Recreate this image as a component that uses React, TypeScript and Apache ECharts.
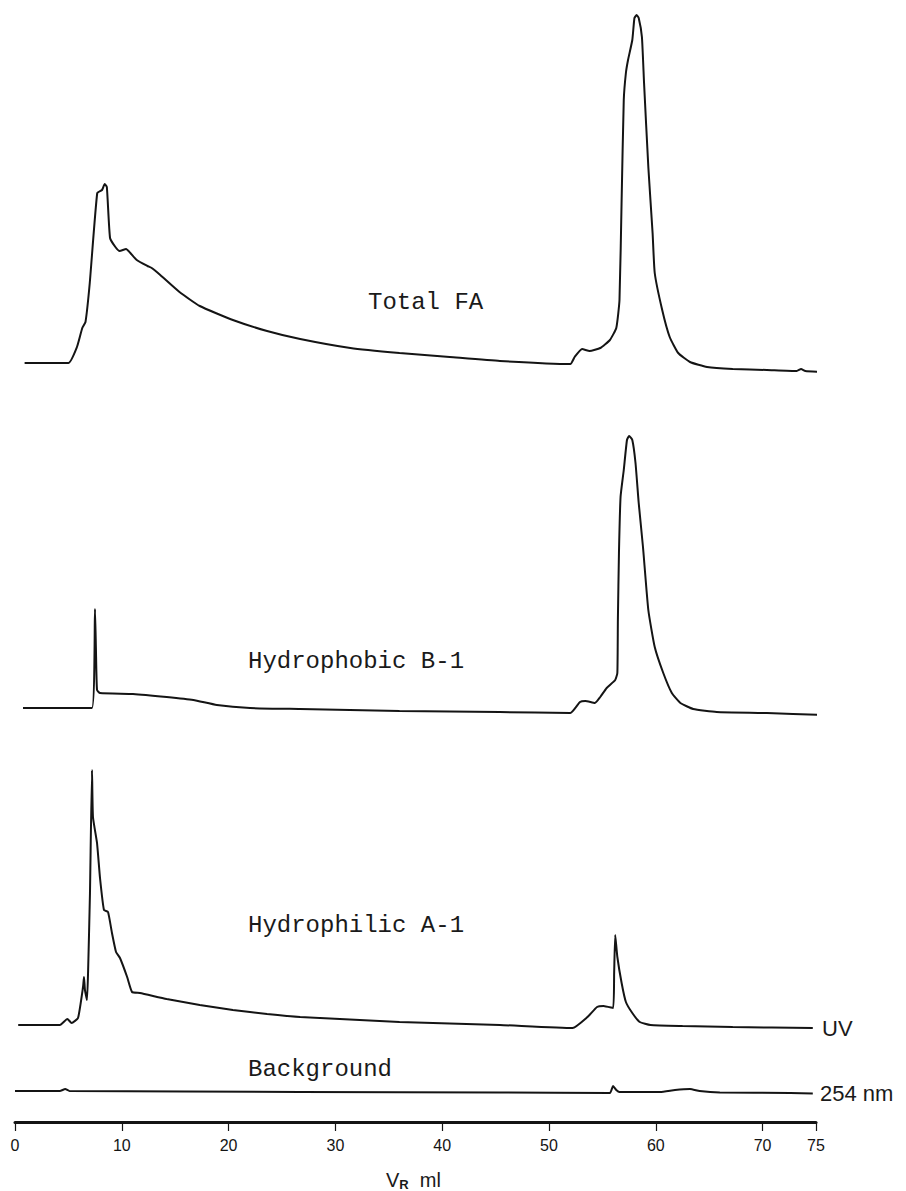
import { useEffect, useRef } from "react";
import * as echarts from "echarts";

// Elution volume V_R (ml) vs. UV response at 254 nm (arbitrary units above each trace's zero)
const volumeTicks = [0, 10, 20, 30, 40, 50, 60, 70, 75];

const totalFA: [number, number][] = [
  [0.9, 4.5], [5.0, 4.5], [5.8, 12.5], [6.3, 22], [6.6, 25], [7.0, 44.5], [7.7, 89.5],
  [8.15, 91], [8.4, 94], [8.6, 92.5], [8.9, 67], [9.4, 62.5], [9.8, 60.5], [10.4, 61.5],
  [10.8, 59.5], [11.4, 56], [12.4, 53], [12.8, 52], [13.6, 48.5], [15.4, 40], [17.3, 33],
  [20.4, 26], [23.6, 20.5], [26.7, 16.5], [31.4, 12], [36.0, 9.5], [40.7, 7.5], [45.4, 5.5],
  [52.0, 4], [52.4, 7.5], [53.1, 11.5], [53.8, 10.5], [54.8, 12], [55.7, 16], [56.3, 22],
  [56.6, 36], [56.8, 86], [57.0, 136], [57.2, 149.5], [57.4, 156], [57.8, 166], [58.0, 177],
  [58.2, 178.5], [58.4, 177], [58.7, 167.5], [58.9, 144.5], [59.3, 102.5], [59.7, 69.5],
  [59.9, 49.5], [60.6, 31], [61.3, 17.5], [62.1, 9.5], [63.2, 5], [64.8, 2.5], [67.2, 1.5],
  [70.4, 1], [73.2, 0.5], [73.6, 1.5], [74.0, 0.5], [75.4, 0],
];

const hydrophobicB1: [number, number][] = [
  [0.75, 3.5], [7.2, 3.5], [7.49, 53], [7.58, 32.5], [7.68, 12.5], [7.96, 11], [11.05, 10.5],
  [14.2, 9], [16.7, 7.5], [18.9, 5], [22.0, 3.5], [26.7, 3], [36.0, 2], [45.4, 1.5], [52.0, 1],
  [52.9, 6.5], [53.4, 7], [54.3, 6], [54.8, 9], [55.4, 13.5], [56.2, 17.5], [56.4, 21],
  [56.45, 47.5], [56.55, 81], [56.7, 109], [57.0, 122.5], [57.3, 137.5], [57.5, 139.5],
  [57.8, 137.5], [58.1, 126], [58.4, 106], [58.8, 84], [59.3, 52.5], [59.9, 34], [60.7, 21],
  [61.5, 11], [62.3, 6], [63.5, 3], [65.7, 1.5], [70.4, 1], [75.4, 0],
];

const hydrophilicA1: [number, number][] = [
  [0.3, 1.5], [4.2, 1.5], [4.9, 4.5], [5.3, 2.5], [5.9, 5], [6.37, 20.5], [6.46, 25.5],
  [6.55, 19], [6.74, 14], [6.84, 27.5], [7.02, 67.5], [7.21, 129], [7.3, 105.5], [7.68, 92.5],
  [7.96, 75], [8.33, 59], [8.71, 58], [9.08, 47.5], [9.46, 38], [9.83, 35], [10.5, 25.5],
  [10.96, 18], [11.7, 17.5], [14.2, 14.5], [17.3, 11.5], [20.4, 9], [23.6, 7], [26.7, 5.5],
  [36.0, 3], [45.4, 1.5], [52.2, 0], [53.6, 5.5], [54.5, 10.5], [55.1, 11], [56.0, 10],
  [56.1, 27.5], [56.2, 46.5], [56.4, 35.5], [56.8, 22.5], [57.2, 13], [57.8, 7.5], [58.5, 3],
  [59.5, 1.5], [62.5, 1], [67.2, 0.5], [74.7, 0],
];

const background: [number, number][] = [
  [0, 1.5], [4.2, 1.5], [4.7, 2.5], [5.1, 1.5], [26.7, 1], [45.4, 0.75], [55.7, 0.5],
  [56.0, 4], [56.3, 2], [56.6, 1], [60.4, 1], [61.8, 2], [63.2, 2.5], [64.1, 1.5], [66.0, 0.75],
  [72.6, 0.5], [74.7, 0.25],
];

const traceNames = ["Total FA", "Hydrophobic B-1", "Hydrophilic A-1", "Background"];

export default function App() {
  const ref = useRef<HTMLDivElement>(null);

  useEffect(() => {
    if (!ref.current) return;
    const chart = echarts.init(ref.current, null, { renderer: "svg" });

    const pxPerUnit = 2;
    const left = 15;
    const right = 816;
    const panels = [
      { data: totalFA, zero: 372, max: 180 },
      { data: hydrophobicB1, zero: 715, max: 150 },
      { data: hydrophilicA1, zero: 1028, max: 140 },
      { data: background, zero: 1094, max: 10 },
    ];
    const axisY = 1122;
    const ink = "#141414";

    const grid = panels.map((p) => ({
      left,
      width: right - left,
      top: p.zero - p.max * pxPerUnit,
      height: p.max * pxPerUnit,
      containLabel: false,
    }));

    const xAxis = panels.map((p, i) => {
      const last = i === panels.length - 1;
      return {
        type: "value",
        gridIndex: i,
        min: 0,
        max: 75,
        show: last,
        position: "bottom",
        offset: last ? axisY - p.zero : 0,
        splitLine: { show: false },
        axisLine: { show: last, onZero: false, lineStyle: { color: ink, width: 3 } },
        axisTick: {
          show: last,
          length: 9,
          customValues: volumeTicks,
          lineStyle: { color: ink, width: 1.2 },
        },
        axisLabel: {
          show: last,
          customValues: volumeTicks,
          margin: 15,
          fontFamily: "Liberation Sans",
          fontSize: 16,
          color: ink,
        },
      };
    });

    const yAxis = panels.map((p, i) => ({
      type: "value",
      gridIndex: i,
      min: 0,
      max: p.max,
      show: false,
    }));

    const series = panels.map((p, i) => ({
      name: traceNames[i],
      type: "line",
      xAxisIndex: i,
      yAxisIndex: i,
      data: p.data,
      showSymbol: false,
      symbol: "none",
      clip: false,
      smooth: 0.15,
      lineStyle: { color: ink, width: 2 },
    }));

    const mono = "'Liberation Mono', 'DejaVu Sans Mono', monospace";
    const sans = "'Liberation Sans', Arial, sans-serif";
    const labelStyle = (text: string) => ({
      text,
      font: `24px ${mono}`,
      fill: "#1a1a1a",
      textVerticalAlign: "middle",
    });

    chart.setOption({
      animation: false,
      backgroundColor: "#ffffff",
      grid,
      xAxis,
      yAxis,
      series,
      graphic: [
        { type: "text", x: 368, y: 302, style: labelStyle(traceNames[0]) },
        { type: "text", x: 248, y: 661, style: labelStyle(traceNames[1]) },
        { type: "text", x: 248, y: 925, style: labelStyle(traceNames[2]) },
        { type: "text", x: 248, y: 1069, style: labelStyle(traceNames[3]) },
        {
          type: "text",
          x: 822,
          y: 1028,
          style: { text: "UV", font: `22px ${sans}`, fill: "#1a1a1a", textVerticalAlign: "middle" },
        },
        {
          type: "text",
          x: 820,
          y: 1093,
          style: { text: "254 nm", font: `22px ${sans}`, fill: "#1a1a1a", textVerticalAlign: "middle" },
        },
        {
          type: "text",
          x: 386,
          y: 1180,
          style: {
            text: "{v|V}{s|R}{v|  ml}",
            textVerticalAlign: "middle",
            rich: {
              v: { fontFamily: sans, fontSize: 20, fill: "#1a1a1a", color: "#1a1a1a" },
              s: {
                fontFamily: sans,
                fontSize: 13,
                fontWeight: "bold",
                color: "#1a1a1a",
                fill: "#1a1a1a",
                padding: [8, 0, 0, 0],
              },
            },
          },
        },
      ],
    });

    return () => chart.dispose();
  }, []);

  return (
    <div
      ref={ref}
      style={{ position: "fixed", left: 0, top: 0, width: 906, height: 1191, background: "#fff" }}
    />
  );
}
